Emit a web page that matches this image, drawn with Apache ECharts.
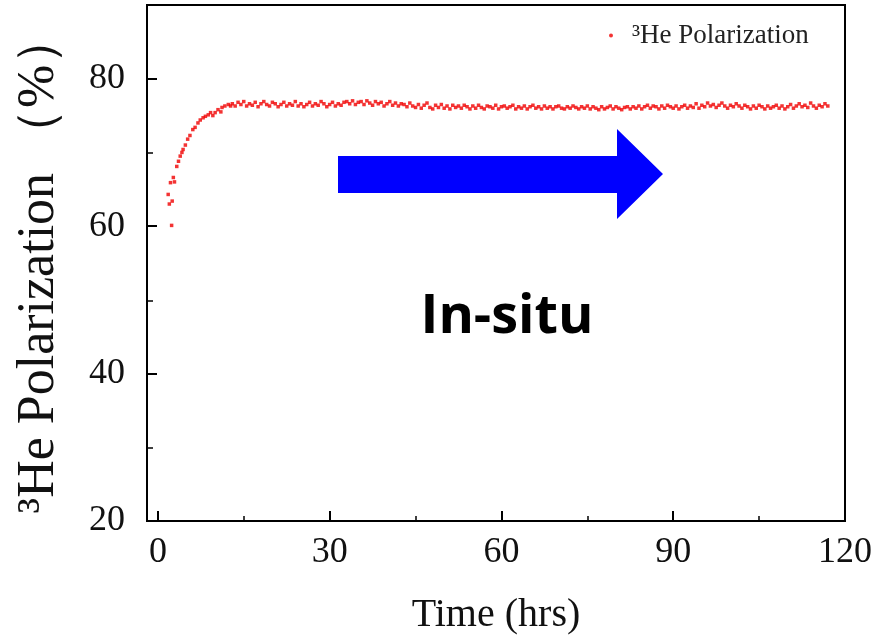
<!DOCTYPE html>
<html>
<head>
<meta charset="utf-8">
<script src="https://cdn.jsdelivr.net/npm/echarts@6/dist/echarts.min.js"></script>
<style>html,body{margin:0;padding:0;background:#fff;}#c{width:876px;height:640px;}</style>
</head>
<body>
<div id="c"></div>
<script>
// Rise part (time in hrs, polarization in %)
var riseTime = [2.4,1.8,2.0,2.5,2.2,2.7,2.9,3.3,3.6,3.9,4.2,4.4,4.8,5.2,5.6,6.1,6.5,7.0,7.4,7.9,8.3,8.8,9.2,9.6,10.0,10.5,11.0,11.2,11.7,12.3,12.7];
var riseValue = [60.1,64.3,63.0,63.4,65.9,66.6,66.0,68.1,68.8,69.5,70.0,70.4,71.0,71.8,72.3,73.1,73.4,74.0,74.4,74.7,74.9,75.1,75.4,75.0,75.4,75.8,75.5,76.1,76.3,76.5,76.3];
// Plateau part
var plateauTime = [
13,13.5,14,14.5,15,15.5,16,16.5,17,17.5,18,18.5,19,19.5,20,20.5,21,21.5,22,22.5,
23,23.5,24,24.5,25,25.5,26,26.5,27,27.5,28,28.5,29,29.5,30,30.5,31,31.5,32,32.5,
33,33.5,34,34.5,35,35.5,36,36.5,37,37.5,38,38.5,39,39.5,40,40.5,41,41.5,42,42.5,
43,43.5,44,44.5,45,45.5,46,46.5,47,47.5,48,48.5,49,49.5,50,50.5,51,51.5,52,52.5,
53,53.5,54,54.5,55,55.5,56,56.5,57,57.5,58,58.5,59,59.5,60,60.5,61,61.5,62,62.5,
63,63.5,64,64.5,65,65.5,66,66.5,67,67.5,68,68.5,69,69.5,70,70.5,71,71.5,72,72.5,
73,73.5,74,74.5,75,75.5,76,76.5,77,77.5,78,78.5,79,79.5,80,80.5,81,81.5,82,82.5,
83,83.5,84,84.5,85,85.5,86,86.5,87,87.5,88,88.5,89,89.5,90,90.5,91,91.5,92,92.5,
93,93.5,94,94.5,95,95.5,96,96.5,97,97.5,98,98.5,99,99.5,100,100.5,101,101.5,102,102.5,
103,103.5,104,104.5,105,105.5,106,106.5,107,107.5,108,108.5,109,109.5,110,110.5,111,111.5,112,112.5,
113,113.5,114,114.5,115,115.5,116,116.5,117];
var plateauValue = [
76.6,76.3,76.8,76.5,76.9,76.3,76.6,76.4,76.8,76.2,76.6,76.9,76.5,76.3,76.8,76.6,76.2,76.5,76.8,76.3,
76.6,76.4,76.9,76.3,76.6,76.2,76.5,76.8,76.3,76.6,76.4,76.9,76.6,76.2,76.5,76.8,76.3,76.6,76.4,76.8,
76.9,76.6,77.0,76.5,76.8,76.9,76.5,77.0,76.7,76.4,76.9,76.6,76.8,76.3,76.6,76.9,76.4,76.7,76.3,76.6,
76.5,76.2,76.7,76.3,76.1,76.5,76.0,76.4,76.7,76.1,75.9,76.4,76.1,76.5,76.0,76.3,75.9,76.4,76.1,76.3,
76.0,76.4,76.2,75.9,76.3,76.0,76.4,76.1,75.9,76.3,76.2,76.0,76.4,75.9,76.2,76.3,76.0,76.2,76.4,75.9,
76.2,76.0,76.3,75.9,76.2,76.4,76.0,76.2,75.9,76.3,76.0,76.2,75.9,76.2,76.3,76.0,75.9,76.2,76.0,76.3,
76.1,75.9,76.2,76.0,76.3,75.9,76.2,76.0,75.8,76.2,75.9,76.1,76.3,75.9,76.2,76.0,75.8,76.1,76.2,75.9,
76.2,76.0,76.3,75.9,76.2,76.4,76.0,76.3,76.2,75.9,76.3,76.0,76.4,76.2,76.0,76.3,75.9,76.2,76.4,76.0,
76.3,76.1,76.6,76.0,76.4,76.2,76.7,76.3,76.5,76.1,76.4,76.7,76.3,76.0,76.4,76.2,76.6,76.3,76.0,76.4,
76.2,75.9,76.3,76.0,76.4,76.2,75.9,76.3,76.0,76.2,76.4,76.0,76.3,75.9,76.2,76.5,76.0,76.3,76.6,76.2,
76.4,76.1,76.7,76.3,76.0,76.4,76.2,76.6,76.3];

var xMajorTicks = [0,30,60,90,120];
var xMinorTicks = [15,45,75,105];
var yMajorTicks = [20,40,60,80];
var yMinorTicks = [30,50,70];
var seriesName = '\u00B3He Polarization';
var xTitle = 'Time (hrs)';
var yTitle = '\u00B3He Polarization \uFF08%\uFF09';
var annotation = 'In-situ';

var data = [];
riseTime.forEach(function(t,i){ data.push([t, riseValue[i]]); });
plateauTime.forEach(function(t,i){ data.push([t, plateauValue[i]]); });

var serif = '"Liberation Serif","Times New Roman",serif';
var gridPos = {left:147, right:31, top:5, bottom:118};
var chart = echarts.init(document.getElementById('c'), null, {renderer:'canvas'});
chart.setOption({
  animation:false,
  backgroundColor:'#fff',
  grid:[
    Object.assign({show:true, borderColor:'#000', borderWidth:2, backgroundColor:'transparent'}, gridPos),
    Object.assign({show:false}, gridPos)
  ],
  legend:{
    left:604, top:17, icon:'circle', itemWidth:4, itemHeight:4,
    data:[seriesName],
    textStyle:{fontFamily:serif, fontSize:27, color:'#222', padding:[0,0,0,14]}
  },
  xAxis:[{
    type:'value', gridIndex:0, min:-1.9, max:120,
    axisLine:{show:true, onZero:false, lineStyle:{color:'#000', width:2}},
    axisTick:{show:true, inside:true, length:10, customValues:xMajorTicks, lineStyle:{color:'#000', width:2}},
    axisLabel:{customValues:xMajorTicks, margin:14, fontFamily:serif, fontSize:36, color:'#111'},
    splitLine:{show:false},
    name:xTitle, nameLocation:'middle', nameGap:74,
    nameTextStyle:{fontFamily:serif, fontSize:40, color:'#111'}
  },{
    type:'value', gridIndex:1, min:-1.9, max:120,
    axisLine:{show:false, onZero:false},
    axisTick:{show:true, inside:true, length:6, customValues:xMinorTicks, lineStyle:{color:'#000', width:1.5}},
    axisLabel:{show:false}, splitLine:{show:false}
  }],
  yAxis:[{
    type:'value', gridIndex:0, min:20, max:90,
    axisLine:{show:true, onZero:false, lineStyle:{color:'#000', width:2}},
    axisTick:{show:true, inside:true, length:10, customValues:yMajorTicks, lineStyle:{color:'#000', width:2}},
    axisLabel:{customValues:yMajorTicks, margin:22, fontFamily:serif, fontSize:36, color:'#111'},
    splitLine:{show:false},
    name:yTitle, nameLocation:'middle', nameGap:82,
    nameTextStyle:{fontFamily:serif, fontSize:52, color:'#111'}
  },{
    type:'value', gridIndex:1, min:20, max:90,
    axisLine:{show:false, onZero:false},
    axisTick:{show:true, inside:true, length:6, customValues:yMinorTicks, lineStyle:{color:'#000', width:1.5}},
    axisLabel:{show:false}, splitLine:{show:false}
  }],
  series:[{
    name:seriesName, type:'scatter', xAxisIndex:0, yAxisIndex:0,
    symbol:'rect', symbolSize:3.5,
    itemStyle:{color:'#f00000'},
    data:data
  }],
  graphic:[{
    type:'polygon',
    shape:{points:[[338,156],[617,156],[617,129],[663,174],[617,219],[617,193],[338,193]]},
    style:{fill:'#0000ff'}
  },{
    type:'text',
    style:{text:annotation, x:507, y:318, align:'center', verticalAlign:'middle',
      font:'bold 54px "Open Sans", sans-serif', fill:'#000'}
  }]
});
</script>
</body>
</html>
